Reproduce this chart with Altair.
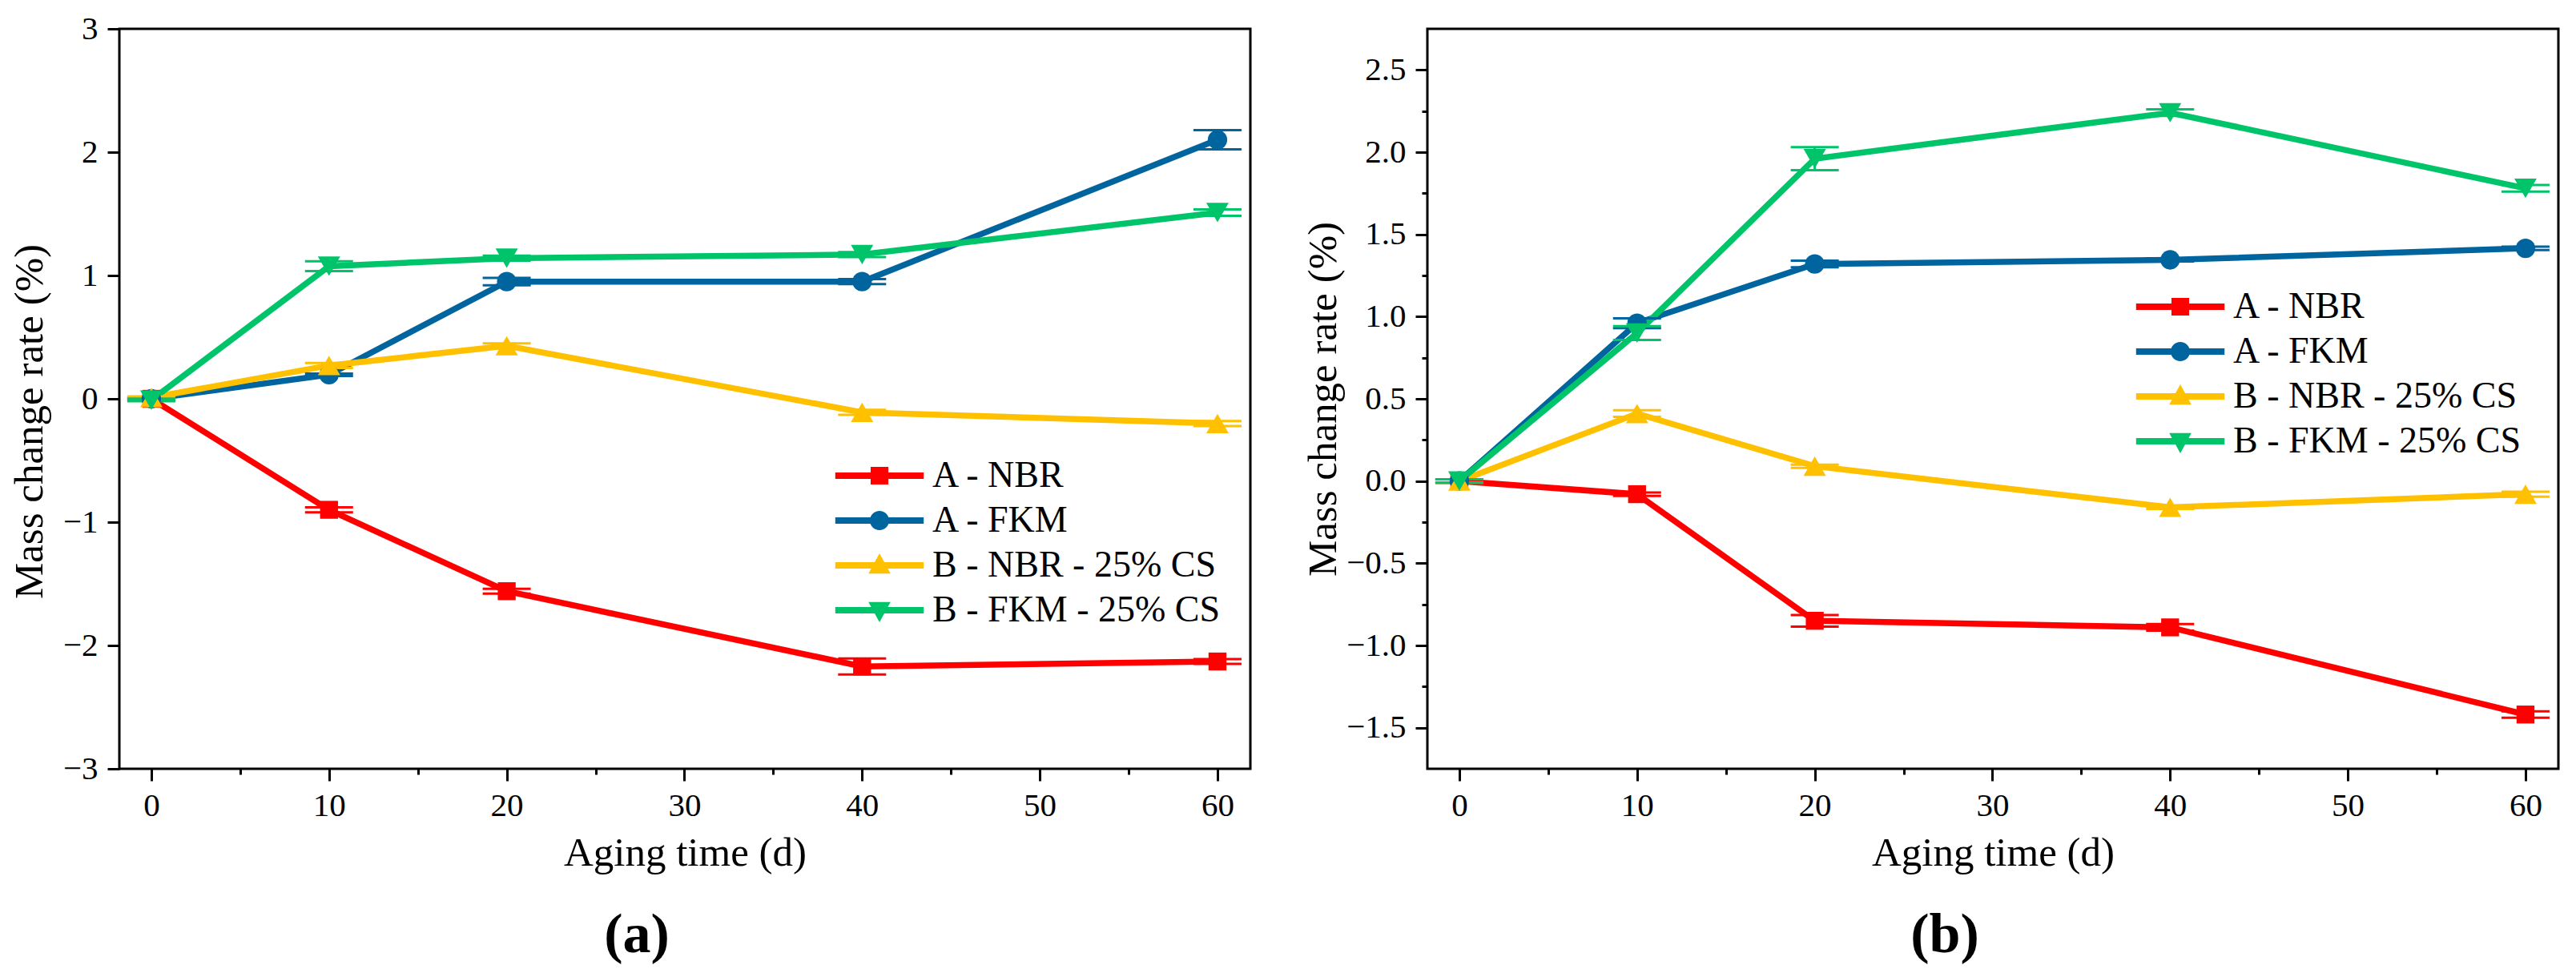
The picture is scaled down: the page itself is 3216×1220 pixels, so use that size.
import altair as alt
import pandas as pd

FONT = "Liberation Serif"

days = [0, 10, 20, 40, 60]
series = ["A - NBR", "A - FKM", "B - NBR - 25% CS", "B - FKM - 25% CS"]
colors = ["#FF0000", "#00649E", "#FFC000", "#00C46A"]
shapes = ["square", "circle", "triangle-up", "triangle-down"]
marker_sizes = [500, 590, 780, 780]

# panel (a)
a_nbr = [0.0, -0.90, -1.56, -2.17, -2.13]
a_nbr_err = [0.01, 0.02, 0.02, 0.065, 0.02]
a_fkm = [0.0, 0.195, 0.95, 0.95, 2.10]
a_fkm_err = [0.01, 0.01, 0.03, 0.02, 0.078]
a_bnbr = [0.01, 0.27, 0.43, -0.11, -0.20]
a_bnbr_err = [0.01, 0.02, 0.02, 0.02, 0.02]
a_bfkm = [-0.01, 1.075, 1.14, 1.17, 1.51]
a_bfkm_err = [0.01, 0.04, 0.02, 0.02, 0.026]

# panel (b)
b_nbr = [0.0, -0.08, -0.85, -0.89, -1.42]
b_nbr_err = [0.01, 0.01, 0.035, 0.02, 0.02]
b_fkm = [0.0, 0.96, 1.32, 1.345, 1.415]
b_fkm_err = [0.01, 0.03, 0.02, 0.01, 0.01]
b_bnbr = [0.0, 0.41, 0.09, -0.16, -0.08]
b_bnbr_err = [0.01, 0.02, 0.01, 0.01, 0.015]
b_bfkm = [0.0, 0.90, 1.96, 2.24, 1.78]
b_bfkm_err = [0.01, 0.042, 0.07, 0.02, 0.02]

x_ticks = [0, 5, 10, 15, 20, 25, 30, 35, 40, 45, 50, 55, 60]
ya_ticks = [-3, -2.5, -2, -1.5, -1, -0.5, 0, 0.5, 1, 1.5, 2, 2.5, 3]
yb_ticks = [-1.5, -1.25, -1.0, -0.75, -0.5, -0.25, 0.0, 0.25, 0.5, 0.75,
            1.0, 1.25, 1.5, 1.75, 2.0, 2.25, 2.5]

# legend symbols: line segment + marker (unit square coordinates)
legend_paths = [
    "M-4.6,-0.33H-0.92V-0.92H0.92V-0.33H4.6V0.33H0.92V0.92H-0.92V0.33H-4.6Z",
    "M-4.6,-0.33H4.6V0.33H-4.6Z M-1,0A1,1 0 0,1 1,0A1,1 0 0,1 -1,0Z",
    "M-4.6,-0.33H4.6V0.33H-4.6Z M0,-1.25L1.15,0.85L-1.15,0.85Z",
    "M-4.6,-0.33H4.6V0.33H-4.6Z M-1.15,-0.85L1.15,-0.85L0,1.25Z",
]

X_DOMAIN = [-1.8, 61.85]


def make_axis(values, fmt, test, title, pad, title_pad, title_y=None):
    extra = {} if title_y is None else {"titleY": title_y}
    return alt.Axis(
        values=values, format=fmt, title=title,
        labelExpr=f"({test}) ? datum.label : ''",
        tickSize={"condition": {"test": test, "value": 15}, "value": 7},
        tickWidth=3, tickColor="black", domain=False, grid=False,
        labelFont=FONT, labelFontSize=41, labelColor="black",
        labelPadding=pad, labelFlush=False, labelOverlap=False,
        titleFont=FONT, titleFontSize=51, titleFontWeight="normal",
        titleColor="black", titlePadding=title_pad, **extra,
    )


def panel(vals, errs, ydomain, yvalues, yfmt, ytest, ytitle_pad, ytitle_y,
          label, lx, ly):
    rows = []
    for s, v, e in zip(series, vals, errs):
        for d, vv, ee in zip(days, v, e):
            rows.append(dict(series=s, day=d, value=vv, lo=vv - ee, hi=vv + ee))
    df = pd.DataFrame(rows)

    xs = alt.Scale(domain=X_DOMAIN, nice=False, zero=False)
    ys = alt.Scale(domain=ydomain, nice=False, zero=False)
    xax = make_axis(x_ticks, "d", "datum.value % 10 === 0", "Aging time (d)", 11, 14)
    yax = make_axis(yvalues, yfmt, ytest, "Mass change rate (%)", 12, ytitle_pad,
                    ytitle_y)
    xenc = alt.X("day:Q", scale=xs, axis=xax)

    base = alt.Chart(df)
    lines, bars, pts = [], [], []
    for s, c, shp, sz in zip(series, colors, shapes, marker_sizes):
        f = base.transform_filter(alt.datum.series == s)
        lines.append(f.mark_line(color=c, strokeWidth=7.5).encode(
            x=xenc, y=alt.Y("value:Q", scale=ys, axis=yax)))
        bars.append(f.mark_rule(color=c, strokeWidth=3).encode(
            x=xenc, y=alt.Y("lo:Q", scale=ys, axis=yax), y2="hi:Q"))
        for fld in ["lo", "hi"]:
            bars.append(f.mark_tick(color=c, orient="horizontal", size=60,
                                    thickness=3, opacity=1).encode(
                x=xenc, y=alt.Y(f"{fld}:Q", scale=ys, axis=yax)))
        pts.append(f.mark_point(filled=True, shape=shp, size=sz, color=c,
                                opacity=1, strokeWidth=0).encode(
            x=xenc, y=alt.Y("value:Q", scale=ys, axis=yax)))

    leg = dict(title=None, orient="none", legendX=lx, legendY=ly,
               labelFont=FONT, labelFontSize=46, labelColor="black",
               labelOffset=43, rowPadding=10, symbolStrokeWidth=0,
               symbolSize=576, padding=0, labelLimit=1000)
    legend_layer = base.transform_filter("datum.day < -100").mark_point(
        filled=True, opacity=1, size=576, strokeWidth=0).encode(
        x=xenc, y=alt.Y("value:Q", scale=ys, axis=yax),
        color=alt.Color("series:N", scale=alt.Scale(domain=series, range=colors),
                        legend=alt.Legend(**leg)),
        shape=alt.Shape("series:N", scale=alt.Scale(domain=series, range=legend_paths),
                        legend=alt.Legend(**leg)),
    )

    return alt.layer(*lines, *bars, *pts, legend_layer).properties(
        width=1412, height=924,
        title=alt.TitleParams(label, orient="bottom", frame="group", anchor="middle",
                              dx=-60, offset=44, font=FONT, fontSize=70,
                              fontWeight="bold", color="black"),
    )


chart_a = panel([a_nbr, a_fkm, a_bnbr, a_bfkm],
                [a_nbr_err, a_fkm_err, a_bnbr_err, a_bfkm_err],
                [-3, 3], ya_ticks, "d", "datum.value % 1 === 0", 15, 490,
                "(a)", 926, 535)
chart_b = panel([b_nbr, b_fkm, b_bnbr, b_bfkm],
                [b_nbr_err, b_fkm_err, b_bnbr_err, b_bfkm_err],
                [-1.75, 2.75], yb_ticks, ".1f", "(datum.value * 2) % 1 === 0", 2, None,
                "(b)", 917, 324)

chart = alt.hconcat(chart_a, chart_b, spacing=221, bounds="flush",
                    background="white",
                    padding={"left": 1, "top": 5, "right": 5, "bottom": 5}).resolve_scale(
    color="independent", shape="independent"
).configure_view(stroke="black", strokeWidth=3)

chart.save("out.html", embed_options={"renderer": "svg", "actions": False})
